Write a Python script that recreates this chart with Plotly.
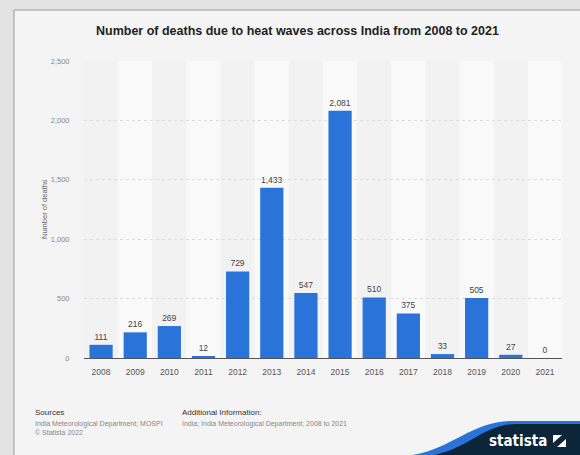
import plotly.graph_objects as go

years = ["2008", "2009", "2010", "2011", "2012", "2013", "2014", "2015", "2016", "2017", "2018", "2019", "2020", "2021"]
deaths = [111, 216, 269, 12, 729, 1433, 547, 2081, 510, 375, 33, 505, 27, 0]
y_ticks = [0, 500, 1000, 1500, 2000, 2500]
y_tick_labels = ["0", "500", "1,000", "1,500", "2,000", "2,500"]

W, H = 580, 455
L, R, T, B = 84, 562, 61, 358

def px(x):
    return (x - L) / (R - L)

def py(y):
    return (B - y) / (B - T)

FONT = "Liberation Sans, Arial, sans-serif"
CARD = "#f4f4f4"

fig = go.Figure()
fig.add_trace(go.Bar(
    x=years, y=deaths,
    marker=dict(color="#2a74d9", line=dict(width=0)),
    text=[f"{v:,}" for v in deaths],
    textposition="outside",
    textfont=dict(family=FONT, size=8.5, color="#444444"),
    cliponaxis=False,
    width=0.68,
))

shapes = []
# outer background card
shapes.append(dict(type="rect", xref="paper", yref="paper",
                   x0=px(14), x1=px(585), y0=py(10), y1=py(460),
                   fillcolor=CARD, line=dict(color="#9a9a9a", width=1), layer="below"))
# alternating column stripes
for i, _ in enumerate(years):
    shapes.append(dict(type="rect", xref="x", yref="paper",
                       x0=i - 0.5, x1=i + 0.5, y0=0, y1=1,
                       fillcolor="#f9f9f9" if i % 2 else "#f2f2f2",
                       line=dict(width=0), layer="below"))

# statista logo swoosh
blue = (f"M {px(405)},{py(456)} C {px(450)},{py(452)} {px(470)},{py(421)} {px(512)},{py(421)} "
        f"L {px(581)},{py(421)} L {px(581)},{py(456)} Z")
navy = (f"M {px(428)},{py(456)} C {px(468)},{py(451)} {px(482)},{py(424)} {px(517)},{py(424)} "
        f"L {px(581)},{py(424)} L {px(581)},{py(456)} Z")
shapes.append(dict(type="path", xref="paper", yref="paper", path=blue,
                   fillcolor="#2a74d9", line=dict(width=0), layer="above"))
shapes.append(dict(type="path", xref="paper", yref="paper", path=navy,
                   fillcolor="#0c2539", line=dict(width=0), layer="above"))
# logo icon
shapes.append(dict(type="rect", xref="paper", yref="paper",
                   x0=px(553), x1=px(566), y0=py(447), y1=py(435),
                   fillcolor="#ffffff", line=dict(width=0), layer="above"))
shapes.append(dict(type="path", xref="paper", yref="paper",
                   path=f"M {px(553)},{py(443)} L {px(562)},{py(435)} L {px(566)},{py(435)} L {px(566)},{py(439)} L {px(557)},{py(447)} L {px(553)},{py(447)} Z",
                   fillcolor="#0c2539", line=dict(width=0), layer="above"))

annotations = [
    dict(text="<b>Number of deaths due to heat waves across India from 2008 to 2021</b>",
         x=px(297), y=py(31), xref="paper", yref="paper", showarrow=False,
         font=dict(family=FONT, size=12.5, color="#222222"), xanchor="center", yanchor="middle"),
    dict(text="Number of deaths", x=px(44), y=py(209), xref="paper", yref="paper",
         showarrow=False, textangle=-90, font=dict(family=FONT, size=7.5, color="#666666"),
         xanchor="center", yanchor="middle"),
    dict(text="Sources", x=px(33), y=py(412), xref="paper", yref="paper", showarrow=False,
         font=dict(family=FONT, size=8, color="#333333"), xanchor="left", yanchor="middle"),
    dict(text="India Meteorological Department; MOSPI<br>© Statista 2022", x=px(33), y=py(418),
         xref="paper", yref="paper", showarrow=False, align="left",
         font=dict(family=FONT, size=7, color="#888888"), xanchor="left", yanchor="top"),
    dict(text="Additional Information:", x=px(180), y=py(412), xref="paper", yref="paper",
         showarrow=False, font=dict(family=FONT, size=8, color="#333333"), xanchor="left", yanchor="middle"),
    dict(text="India; India Meteorological Department; 2008 to 2021", x=px(180), y=py(418),
         xref="paper", yref="paper", showarrow=False, align="left",
         font=dict(family=FONT, size=7, color="#888888"), xanchor="left", yanchor="top"),
    dict(text="<b>statista</b>", x=px(549), y=py(441), xref="paper", yref="paper", showarrow=False,
         font=dict(family="DejaVu Sans Condensed, Liberation Sans Narrow, sans-serif", size=15, color="#ffffff"),
         xanchor="right", yanchor="middle"),
]

fig.update_layout(
    width=W, height=H,
    margin=dict(l=L, r=W - R, t=T, b=H - B, pad=0),
    paper_bgcolor="#e3e3e3",
    plot_bgcolor="rgba(0,0,0,0)",
    showlegend=False,
    bargap=0.32,
    shapes=shapes,
    annotations=annotations,
    xaxis=dict(type="category", showgrid=False, ticks="outside", ticklen=6, tickcolor="rgba(0,0,0,0)",
               tickfont=dict(family=FONT, size=8.5, color="#555555"),
               showline=True, linecolor="#555555", linewidth=1, zeroline=False),
    yaxis=dict(range=[0, 2500], tickvals=y_ticks, ticktext=y_tick_labels,
               tickfont=dict(family=FONT, size=7.5, color="#888888"),
               ticks="outside", ticklen=12, tickcolor="rgba(0,0,0,0)",
               showgrid=True, gridcolor="#dcdcdc", griddash="dot", gridwidth=1,
               zeroline=False, showline=False),
)

fig.write_html("out.html", config={"displayModeBar": False},
               post_script="document.body.style.margin='0';document.body.style.overflow='hidden';")
